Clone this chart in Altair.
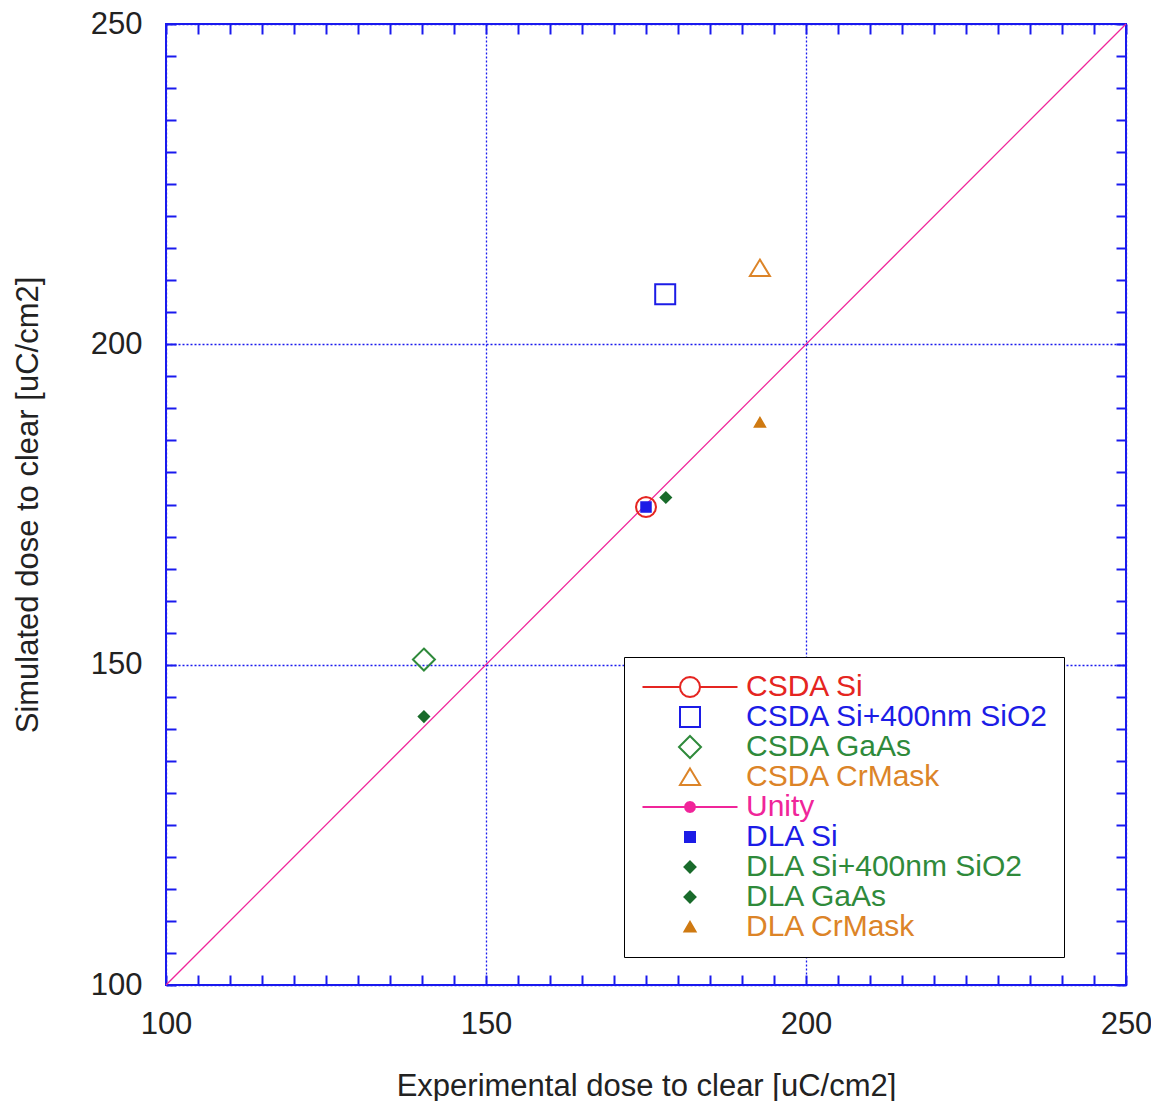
import math
import altair as alt
import pandas as pd

# ---------------- data ----------------
series = ["CSDA Si", "CSDA Si+400nm SiO2", "CSDA GaAs", "CSDA CrMask",
          "DLA Si", "DLA Si+400nm SiO2", "DLA GaAs", "DLA CrMask"]
exp_dose = [175.0, 178.0, 140.3, 192.8, 175.0, 178.1, 140.3, 192.8]
sim_dose = [174.6, 207.8, 150.8, 211.9, 174.6, 176.1, 141.9, 187.8]

legend_order = ["CSDA Si", "CSDA Si+400nm SiO2", "CSDA GaAs", "CSDA CrMask", "Unity",
                "DLA Si", "DLA Si+400nm SiO2", "DLA GaAs", "DLA CrMask"]

unity_x = [100, 250]
unity_y = [100, 250]

major_ticks = [100, 150, 200, 250]
minor_ticks = [100, 105, 110, 115, 120, 125, 130, 135, 140, 145, 150, 155, 160, 165, 170,
               175, 180, 185, 190, 195, 200, 205, 210, 215, 220, 225, 230, 235, 240, 245, 250]

# ---------------- styles ----------------
RED = "#e52521"
BLUE = "#1c1ce6"
GREEN = "#2f8a3b"
ORANGE = "#dc8428"
PINK = "#f0259a"
DKGREEN = "#196b2b"
DKORANGE = "#cf7a12"
FRAME = "#1a1aee"
TXT = "#222222"
FONT = "Liberation Sans"

SYM = 256            # symbol area (px^2) -> 1 path unit = 8 px
U = 10.0 / 8.0       # path scale so that 1 unit of the design equals 10 px


def ring(r, n=16):
    pts = [(U * r * math.cos(2 * math.pi * k / n), U * r * math.sin(2 * math.pi * k / n)) for k in range(n)]
    return "M" + "L".join(f"{x:.3f},{y:.3f}" for x, y in pts) + "Z"


def poly(*pts):
    return "M" + "L".join(f"{U * x:.3f},{U * y:.3f}" for x, y in pts) + "Z"


def hline(a, b):
    return f"M{U * a:.3f},0H{U * b:.3f}"


CIRCLE = ring(1.0)
CIRCLE_LINE = hline(-4.75, -1) + hline(1, 4.75) + CIRCLE
SQUARE = poly((-1, -1), (1, -1), (1, 1), (-1, 1))
DIAMOND = poly((0, -1.1), (1.1, 0), (0, 1.1), (-1.1, 0))
TRIANGLE = poly((0, -0.85), (1, 0.8), (-1, 0.8))
UNITY = hline(-4.75, 4.75) + ring(0.5, 12)
SMALL_SQUARE = poly((-0.5, -0.5), (0.5, -0.5), (0.5, 0.5), (-0.5, 0.5))
SMALL_DIAMOND = poly((0, -0.55), (0.55, 0), (0, 0.55), (-0.55, 0))
SMALL_TRIANGLE = poly((0, -0.5), (0.55, 0.45), (-0.55, 0.45))

legend_stroke = [RED, BLUE, GREEN, ORANGE, PINK, BLUE, DKGREEN, DKGREEN, DKORANGE]
legend_fill = ["transparent", "transparent", "transparent", "transparent",
               PINK, BLUE, DKGREEN, DKGREEN, DKORANGE]
legend_paths = [CIRCLE_LINE, SQUARE, DIAMOND, TRIANGLE, UNITY,
                SMALL_SQUARE, SMALL_DIAMOND, SMALL_DIAMOND, SMALL_TRIANGLE]
label_colors = [RED, BLUE, GREEN, ORANGE, PINK, BLUE, GREEN, GREEN, ORANGE]

plot_paths = [CIRCLE, SQUARE, DIAMOND, TRIANGLE,
              SMALL_SQUARE, SMALL_DIAMOND, SMALL_DIAMOND, SMALL_TRIANGLE]
plot_colors = [RED, BLUE, GREEN, ORANGE, BLUE, DKGREEN, DKGREEN, DKORANGE]
plot_filled = [False, False, False, False, True, True, True, True]

points = pd.DataFrame({"series": series, "exp": exp_dose, "sim": sim_dose})
unity = pd.DataFrame({"exp": unity_x, "sim": unity_y})

xs = alt.Scale(domain=[100, 250], nice=False, zero=False)
ys = alt.Scale(domain=[100, 250], nice=False, zero=False)

# ---------------- axes ----------------
x_main = alt.Axis(orient="bottom", values=major_ticks, grid=True, gridColor=FRAME,
                  gridDash=[2, 2], gridWidth=1.3, ticks=False, tickSize=0, domain=False,
                  labelFontSize=31, labelPadding=24, labelFlush=False, labelColor=TXT,
                  labelFont=FONT, title="Experimental dose to clear [uC/cm2]",
                  titleFontSize=31, titleFont=FONT, titleFontWeight="normal",
                  titleColor=TXT, titlePadding=32)
y_main = alt.Axis(orient="left", values=major_ticks, grid=True, gridColor=FRAME,
                  gridDash=[2, 2], gridWidth=1.3, ticks=False, tickSize=0, domain=False,
                  labelFontSize=31, labelPadding=24, labelFlush=False, labelColor=TXT,
                  labelFont=FONT, title="Simulated dose to clear [uC/cm2]",
                  titleFontSize=31, titleFont=FONT, titleFontWeight="normal",
                  titleColor=TXT, titlePadding=46)


def tick_axis(orient):
    return alt.Axis(orient=orient, values=minor_ticks, offset=-10, tickSize=10,
                    tickWidth=2, tickColor=FRAME, labels=False, domain=False,
                    grid=False, title=None)


# Unity line (main axes)
unity_layer = alt.Chart(unity).mark_line(color=PINK, strokeWidth=1.3).encode(
    x=alt.X("exp:Q", scale=xs, axis=x_main),
    y=alt.Y("sim:Q", scale=ys, axis=y_main),
)

# legend label colours as an expression built from the lists
label_expr = " : ".join(
    f"datum.label == '{n}' ? '{c}'" for n, c in zip(legend_order, label_colors)
) + " : 'black'"

leg = alt.Legend(
    title=None, orient="none", legendX=458, legendY=633,
    labelFontSize=30, labelFont=FONT, labelLimit=600,
    labelColor=alt.ExprRef(label_expr),
    symbolSize=SYM, symbolStrokeWidth=2, symbolOpacity=1,
    symbolFillColor="transparent", symbolStrokeColor="black",
    symbolOffset=36, labelOffset=41, padding=15, rowPadding=-1,
    strokeColor="black", fillColor="white",
)
legend_layer = alt.Chart(points).transform_filter("false").mark_point(size=SYM).encode(
    x=alt.X("exp:Q", scale=xs, axis=tick_axis("bottom")),
    y=alt.Y("sim:Q", scale=ys, axis=tick_axis("left")),
    color=alt.Color("series:N", scale=alt.Scale(domain=legend_order, range=legend_stroke), legend=leg),
    fill=alt.Fill("series:N", scale=alt.Scale(domain=legend_order, range=legend_fill), legend=leg),
    shape=alt.Shape("series:N", scale=alt.Scale(domain=legend_order, range=legend_paths), legend=leg),
)

# top/right inner ticks
tick_layer = alt.Chart(unity).mark_line(opacity=0).encode(
    x=alt.X("exp:Q", scale=xs, axis=tick_axis("top")),
    y=alt.Y("sim:Q", scale=ys, axis=tick_axis("right")),
)

# visible markers
marker_layers = []
for s, pth, col, fl in zip(series, plot_paths, plot_colors, plot_filled):
    marker_layers.append(
        alt.Chart(points).transform_filter(alt.datum.series == s).mark_point(
            shape=pth, size=SYM, filled=fl, color=col, stroke=col,
            strokeWidth=(1.5 if fl else 2), opacity=1,
        ).encode(
            x=alt.X("exp:Q", scale=xs, axis=None),
            y=alt.Y("sim:Q", scale=ys, axis=None),
        )
    )

chart = alt.layer(unity_layer, legend_layer, tick_layer, *marker_layers).resolve_axis(
    x="independent", y="independent"
).properties(
    width=960, height=961,
    autosize=alt.AutoSizeParams(type="none"),
    padding={"left": 158, "top": 16, "right": 25, "bottom": 116},
).configure_view(stroke=FRAME, strokeWidth=2)

chart.save("out.html", embed_options={"renderer": "svg", "actions": False})
